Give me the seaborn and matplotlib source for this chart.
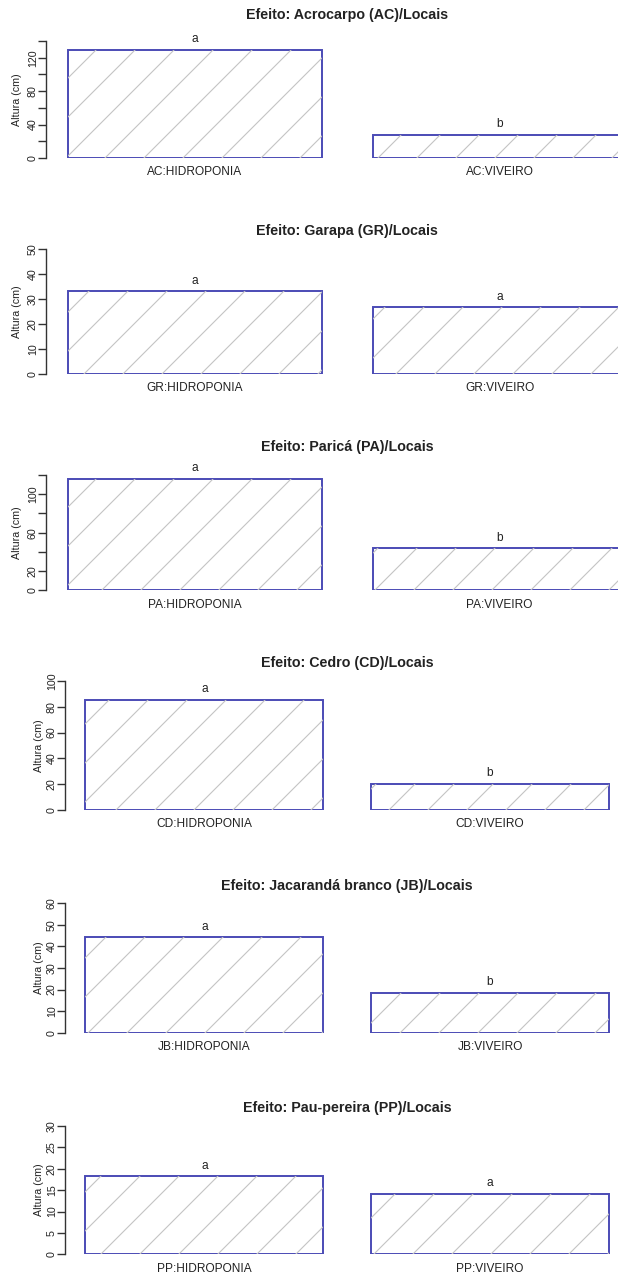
import numpy as np
import pandas as pd
import matplotlib
matplotlib.use('Agg')
import matplotlib.pyplot as plt
import matplotlib.transforms as mtransforms
from matplotlib.lines import Line2D
import seaborn as sns

# Dados (altura média, cm)
especies = ['Acrocarpo (AC)', 'Garapa (GR)', 'Paricá (PA)', 'Cedro (CD)',
            'Jacarandá branco (JB)', 'Pau-pereira (PP)']
siglas = ['AC', 'GR', 'PA', 'CD', 'JB', 'PP']
locais = ['HIDROPONIA', 'VIVEIRO']
altura_hidroponia = [129.2, 33.1, 115.8, 85.4, 44.2, 18.2]
altura_viveiro = [27.6, 26.7, 43.7, 20.2, 18.6, 14.1]
letras_hidroponia = ['a', 'a', 'a', 'a', 'a', 'a']
letras_viveiro = ['b', 'a', 'b', 'b', 'b', 'a']
y_max = [140, 50, 120, 100, 60, 30]
y_passo = [20, 10, 20, 20, 10, 5]
y_rotulos = [[0, 40, 80, 120], None, [0, 20, 60, 100], None, None, None]

# Layout em pixels (figura 618 x 1277)
W, H = 618, 1277
base_px = [158, 374, 590.3, 810, 1032.7, 1254.3]
topo_px = [41, 249, 475, 681, 903.3, 1126]
titulo_px = [15, 231, 447, 663, 886, 1108]
esq_px = [45.6] * 3 + [64.5] * 3
dir_px = [649] * 3 + [630] * 3
ylab_px = [17] * 3 + [39] * 3

cor_borda = '#4b4bb5'
cor_hachura = '#c4c4c4'
cor_texto = '#222222'
cor_eixo = '#333333'

sns.set_theme(style='white')
plt.rcParams['font.family'] = ['Liberation Sans', 'DejaVu Sans']

fig = plt.figure(figsize=(W / 100, H / 100), dpi=100)
fig.patch.set_facecolor('white')

for i in range(6):
    l, r = esq_px[i], dir_px[i]
    b, t = base_px[i], topo_px[i]
    ax = fig.add_axes([l / W, 1 - b / H, (r - l) / W, (b - t) / H])
    ax.patch.set_alpha(0)

    df = pd.DataFrame({
        'local': [f'{siglas[i]}:{loc}' for loc in locais],
        'altura': [altura_hidroponia[i], altura_viveiro[i]],
    })
    sns.barplot(data=df, x='local', y='altura', color='white', saturation=1,
                edgecolor=cor_borda, linewidth=1.4, width=1 / 1.2,
                errorbar=None, ax=ax)

    ax.set_xlim(-0.49, 1.49)
    ax.set_ylim(0, y_max[i])

    for s in ['top', 'right', 'bottom']:
        ax.spines[s].set_visible(False)
    ax.spines['left'].set_color(cor_eixo)
    ax.spines['left'].set_linewidth(1.0)

    ticks = list(range(0, y_max[i] + 1, y_passo[i]))
    ax.set_yticks(ticks)
    mostrar = y_rotulos[i] if y_rotulos[i] is not None else ticks
    ax.set_yticklabels([str(v) if v in mostrar else '' for v in ticks])
    ax.tick_params(axis='y', left=True, direction='out', length=6, width=1,
                   color=cor_eixo, pad=-0.5, labelsize=7.7, labelcolor=cor_texto)
    plt.setp(ax.get_yticklabels(), rotation=90, va='center')

    ax.set_xticks([0, 1])
    ax.set_xticklabels(df['local'])
    ax.tick_params(axis='x', bottom=False, length=0, pad=6, labelsize=8.6,
                   labelcolor=cor_texto)
    ax.set_xlabel('')
    ax.set_ylabel('')

    # letras de significância
    for x, (v, let) in enumerate(zip(df['altura'], [letras_hidroponia[i], letras_viveiro[i]])):
        ax.annotate(let, (x, v), xytext=(0, 7.6), textcoords='offset points',
                    ha='center', va='center', fontsize=8.6, color=cor_texto)

    # hachuras a 45 graus, espaçamento como no R
    esp = 39
    barras = list(ax.patches)
    for patch in barras:
        bb = patch.get_window_extent()
        c = bb.y0 - bb.x1
        c = np.floor(c / esp) * esp
        while c < bb.y1 - bb.x0:
            xs = [bb.x0 - 5, bb.x1 + 5]
            ys = [xs[0] + c, xs[1] + c]
            ln = Line2D(xs, ys, color=cor_hachura, linewidth=0.8,
                        transform=mtransforms.IdentityTransform(),
                        zorder=patch.get_zorder() + 0.1)
            ax.add_line(ln)
            ln.set_clip_path(patch)
            c += esp

    fig.text((l + r) / 2 / W, 1 - titulo_px[i] / H,
             f'Efeito: {especies[i]}/Locais', ha='center', va='center',
             fontsize=10.3, fontweight='bold', color=cor_texto)
    fig.text(ylab_px[i] / W, 1 - (b + t) / 2 / H, 'Altura (cm)',
             rotation=90, ha='center', va='center', fontsize=7.7, color=cor_texto)

fig.savefig('out.png', dpi=100, facecolor='white')
